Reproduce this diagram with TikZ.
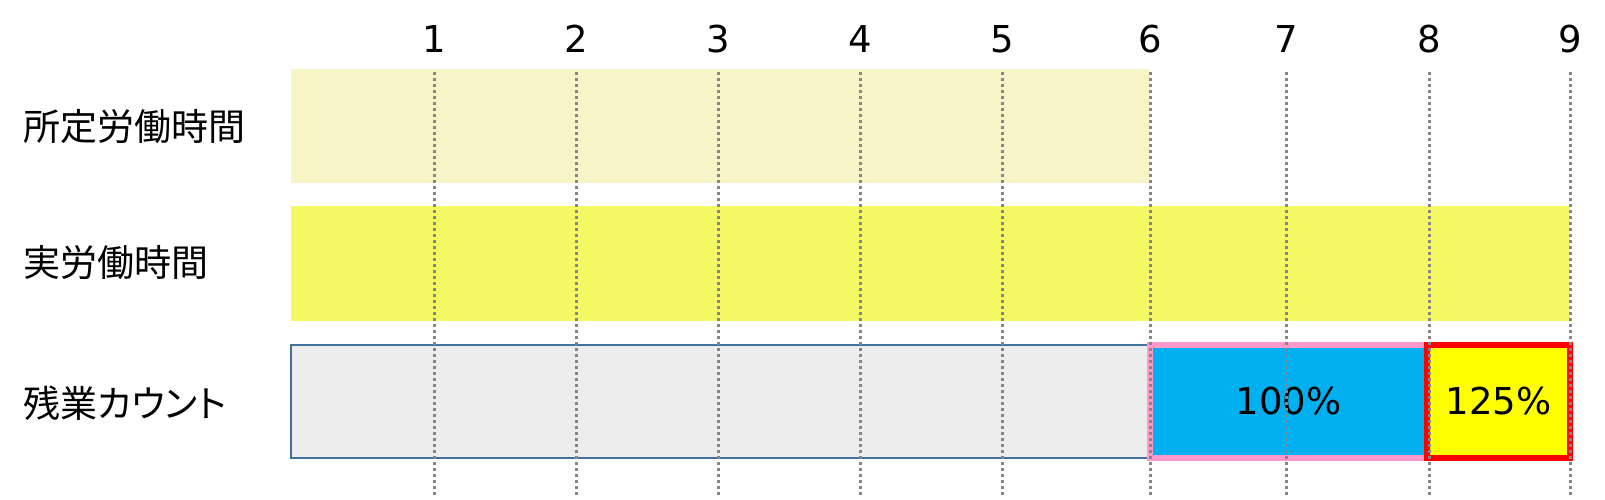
\documentclass[tikz,border=0pt]{standalone}
\usepackage{fontspec}
\setmainfont{DejaVu Sans}
\newfontfamily\jp{Noto Sans CJK JP}
\newfontfamily\jpp[RawFeature=+palt]{Noto Sans CJK JP}
\definecolor{planfill}{HTML}{F7F4C8}
\definecolor{actfill}{HTML}{F5FA64}
\definecolor{grayfill}{HTML}{EDEDED}
\definecolor{grayedge}{HTML}{41719C}
\definecolor{bluefill}{HTML}{00B0F0}
\definecolor{pinkedge}{HTML}{FF99CC}
\definecolor{yelfill}{HTML}{FFFF00}
\definecolor{rededge}{HTML}{FF0000}
\definecolor{dotgray}{HTML}{868686}
\begin{document}
\begin{tikzpicture}[x=1bp,y=-1bp,
  txt/.style={font=\fontsize{37bp}{44bp}\selectfont, inner sep=0pt},
  bar/.style={anchor=north west, inner sep=0pt, outer sep=0pt},
  hourline/.style={draw=dotgray, line width=3bp, dash pattern=on 3bp off 3bp},
]
\useasboundingbox (0,0) rectangle (1605,500);
% rows
\node[bar, fill=planfill, minimum width=859bp, minimum height=114bp] (r1) at (291,69) {};
\node[bar, fill=actfill, minimum width=1279bp, minimum height=115bp] (r2) at (291,206) {};
\node[bar, fill=grayfill, draw=grayedge, line width=2bp, minimum width=859bp, minimum height=113bp] (r3) at (291,345) {};
\node[bar, fill=bluefill, draw=pinkedge, line width=5.5bp, minimum width=277bp, minimum height=113bp] (ot1) at (1150,345) {};
\node[bar, fill=yelfill, draw=rededge, line width=5.5bp, minimum width=143bp, minimum height=113bp] (ot2) at (1427,345) {};
\node[txt] (p1) at (ot1.center) {100\%};
\node[txt] (p2) at (ot2.center) {125\%};
% labels
\node[txt, anchor=west] (l1) at (23,127) {\jp 所定労働時間};
\node[txt, anchor=west] (l2) at (23,263) {\jp 実労働時間};
\node[txt, anchor=west] (l3) at (23,403) {\jpp 残業カウント};
% hour lines
\foreach \k/\xx in {1/434,2/576,3/718,4/860,5/1002,6/1150,7/1286,8/1429,9/1570}{
  \node[txt] (n\k) at (\xx,39) {\k};
  \coordinate (t\k) at (\xx,72);
  \coordinate (b\k) at (\xx,495);
  \draw[hourline] (t\k) -- (b\k);
}
\end{tikzpicture}
\end{document}
